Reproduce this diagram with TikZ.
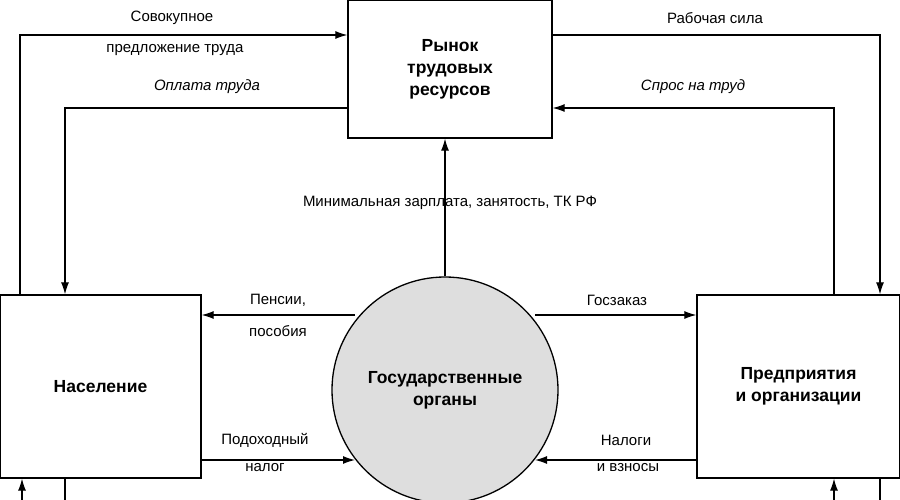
\documentclass[tikz,border=0pt]{standalone}
\usepackage{fontspec}
\setmainfont{Liberation Sans}
\usetikzlibrary{arrows.meta}
\begin{document}
\begin{tikzpicture}[x=1pt,y=-1pt,
  box/.style={draw,line width=1.3pt,fill=white,font=\bfseries\fontsize{17.5}{22}\selectfont,align=center,inner sep=0pt},
  lab/.style={font=\fontsize{15}{18}\selectfont,align=center},
  ln/.style={line width=1.2pt},
  ar/.style={line width=1.2pt,-{Latex[length=12pt,width=8pt]}}]
\useasboundingbox (0,0) rectangle (900,500);
\node[box,minimum width=204pt,minimum height=138pt] (m) at (450,69) {Рынок\\трудовых\\ресурсов};
\node[box,minimum width=201pt,minimum height=183pt] (n) at (100.5,386.5) {Население};
\node[box,minimum width=203pt,minimum height=183pt] (p) at (798.5,386.5) {Предприятия\\и организации};
\node[circle,draw,line width=1.3pt,fill=black!13,minimum size=226pt,inner sep=0pt,font=\bfseries\fontsize{17.5}{22}\selectfont,align=center] (g) at (445,390) {Государственные\\органы};
\coordinate (c1) at (20,35); \coordinate (c2) at (65,108);
\coordinate (c3) at (880,35); \coordinate (c4) at (834,108);
\draw[ar] (n.north -| c1) -- (c1) -- (c1 -| m.west);
\draw[ar] (c2 -| m.west) -- (c2) -- (n.north -| c2);
\draw[ar] (c3 -| m.east) -- (c3) -- (p.north -| c3);
\draw[ar] (p.north -| c4) -- (c4) -- (c4 -| m.east);
\draw[ar] (g.north) -- (g.north |- m.south);
\coordinate (b1) at (22,500); \coordinate (b2) at (65,500);
\coordinate (b3) at (834,500); \coordinate (b4) at (880,500);
\draw[ar] (b1) -- (b1 |- n.south);
\draw[ln] (b2 |- n.south) -- (b2);
\draw[ar] (b3) -- (b3 |- p.south);
\draw[ln] (b4 |- p.south) -- (b4);
\coordinate (g1) at (355,315); \coordinate (g2) at (535,315);
\coordinate (g3) at (355,460); \coordinate (g4) at (535,460);
\draw[ar] (g1) -- (g1 -| n.east);
\draw[ar] (g2) -- (g2 -| p.west);
\draw[ar] (g3 -| n.east) -- (g3);
\draw[ar] (g4 -| p.west) -- (g4);
\node[lab] (t1) at (172,18) {Совокупное};
\node[lab] (t2) at (175,50) {предложение труда};
\node[lab,font=\itshape\fontsize{15}{18}\selectfont] (t3) at (207,87) {Оплата труда};
\node[lab] (t4) at (715,18) {Рабочая сила};
\node[lab,font=\itshape\fontsize{15}{18}\selectfont] (t5) at (693,87) {Спрос на труд};
\node[lab] (t6) at (450,203) {Минимальная зарплата, занятость, ТК РФ};
\node[lab] (t7) at (278,300) {Пенсии,};
\node[lab] (t8) at (278,331) {пособия};
\node[lab] (t9) at (617,300) {Госзаказ};
\node[lab] (t10) at (265,440) {Подоходный};
\node[lab] (t11) at (265,468) {налог};
\node[lab] (t12) at (626,440) {Налоги};
\node[lab] (t13) at (628,468) {и взносы};
\end{tikzpicture}
\end{document}
